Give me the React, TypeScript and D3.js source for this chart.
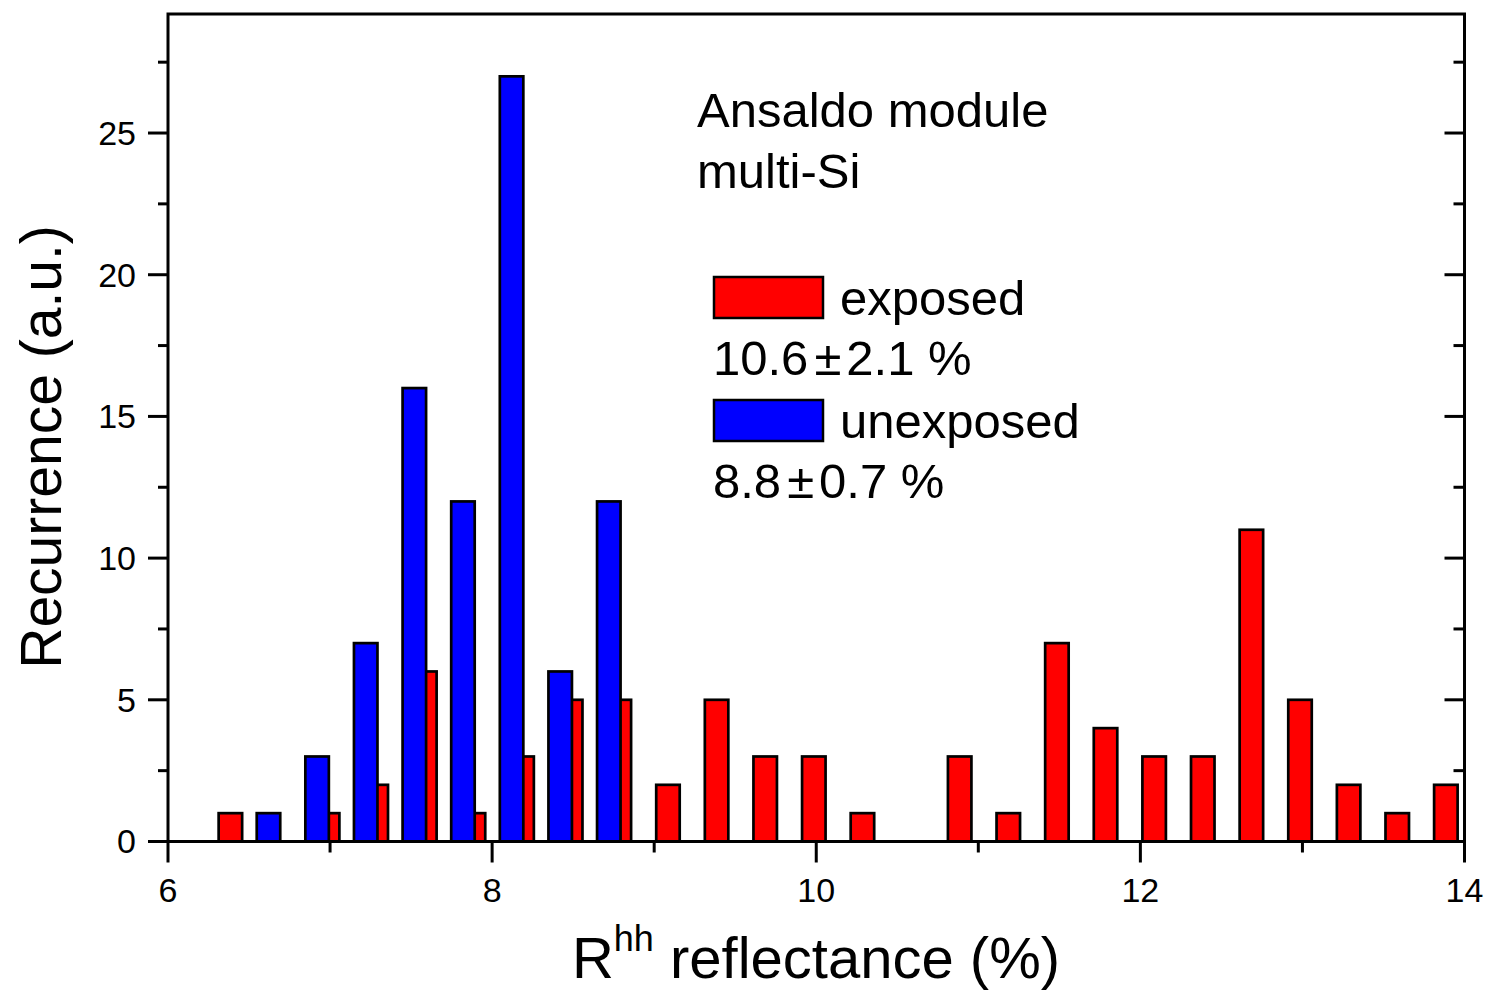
import React from "react";
import * as d3 from "d3";

const binCenters = [
  6.35, 6.65, 6.95, 7.25, 7.55, 7.85, 8.15, 8.45, 8.75, 9.05, 9.35, 9.65, 9.95,
  10.25, 10.55, 10.85, 11.15, 11.45, 11.75, 12.05, 12.35, 12.65, 12.95, 13.25,
  13.55, 13.85,
];
const exposed = [1, 0, 1, 2, 6, 1, 3, 5, 5, 2, 5, 3, 3, 1, 0, 3, 1, 7, 4, 3, 3, 11, 5, 2, 1, 2];
const unexposed = [0, 1, 3, 7, 16, 12, 27, 6, 12, 0, 0, 0, 0, 0, 0, 0, 0, 0, 0, 0, 0, 0, 0, 0, 0, 0];
const xMajorTicks = [6, 8, 10, 12, 14];
const xMinorTicks = [7, 9, 11, 13];
const yMajorTicks = [0, 5, 10, 15, 20, 25];
const yMinorTicks = [2.5, 7.5, 12.5, 17.5, 22.5, 27.5];
const legendItems = [
  { label: "exposed", mean: "10.6", sd: "2.1 %", color: "#ff0000" },
  { label: "unexposed", mean: "8.8", sd: "0.7 %", color: "#0000ff" },
];
const annotation = ["Ansaldo module", "multi-Si"];

const W = 1488;
const H = 993;
const L = 168;
const R = 1464.5;
const T = 14;
const B = 841.5;
const FONT = "'Liberation Sans', Arial, Helvetica, sans-serif";

export default function App() {
  const x = d3.scaleLinear().domain([6, 14]).range([L, R]);
  const y = d3.scaleLinear().domain([0, 29.2]).range([B, T]);
  const barW = x(6.145) - x(6);
  const redOff = 0.035;
  const blueOff = -0.03;

  const bars = (vals: number[], off: number, color: string) =>
    vals.map((v, i) =>
      v > 0 ? (
        <rect
          key={color + i}
          x={x(binCenters[i] + off) - barW / 2}
          y={y(v)}
          width={barW}
          height={y(0) - y(v)}
          fill={color}
          stroke="#000"
          strokeWidth={2.7}
        />
      ) : null
    );

  return (
    <svg
      width={W}
      height={H}
      style={{ position: "absolute", left: 0, top: 0, background: "#fff" }}
      fontFamily={FONT}
    >
      <rect x={0} y={0} width={W} height={H} fill="#fff" />
      {bars(exposed, redOff, "#ff0000")}
      {bars(unexposed, blueOff, "#0000ff")}

      {/* frame */}
      <rect x={L} y={T} width={R - L} height={B - T} fill="none" stroke="#000" strokeWidth={3} />

      {/* bottom ticks */}
      {xMajorTicks.map((t) => (
        <g key={"xM" + t}>
          <line x1={x(t)} x2={x(t)} y1={B} y2={B + 21} stroke="#000" strokeWidth={3} />
          <text x={x(t)} y={902} fontSize={34} textAnchor="middle">
            {t}
          </text>
        </g>
      ))}
      {xMinorTicks.map((t) => (
        <line key={"xm" + t} x1={x(t)} x2={x(t)} y1={B} y2={B + 11} stroke="#000" strokeWidth={3} />
      ))}

      {/* left ticks */}
      {yMajorTicks.map((t) => (
        <g key={"yM" + t}>
          <line x1={L - 20} x2={L} y1={y(t)} y2={y(t)} stroke="#000" strokeWidth={3} />
          <line x1={R - 20} x2={R} y1={y(t)} y2={y(t)} stroke="#000" strokeWidth={3} />
          <text x={136} y={y(t)} dy="0.35em" fontSize={34} textAnchor="end">
            {t}
          </text>
        </g>
      ))}
      {yMinorTicks.map((t) => (
        <g key={"ym" + t}>
          <line x1={L - 10} x2={L} y1={y(t)} y2={y(t)} stroke="#000" strokeWidth={3} />
          <line x1={R - 11} x2={R} y1={y(t)} y2={y(t)} stroke="#000" strokeWidth={3} />
        </g>
      ))}

      {/* axis titles */}
      <text
        transform={`translate(61, 447) rotate(-90)`}
        fontSize={57}
        textAnchor="middle"
      >
        Recurrence (a.u.)
      </text>
      <text x={816} y={978} fontSize={58} textAnchor="middle">
        R<tspan dy={-27} fontSize={36}>hh</tspan>
        <tspan dy={27}> reflectance (%)</tspan>
      </text>

      {/* annotation */}
      {annotation.map((s, i) => (
        <text key={s} x={697} y={127 + i * 61} fontSize={49}>
          {s}
        </text>
      ))}

      {/* legend */}
      {legendItems.map((it, i) => {
        const y0 = 277 + i * 123;
        return (
          <g key={it.label}>
            <rect x={714} y={y0} width={109} height={41} fill={it.color} stroke="#000" strokeWidth={2.5} />
            <text x={840} y={y0 + 38} fontSize={49}>
              {it.label}
            </text>
            <text x={713} y={y0 + 98} fontSize={49}>
              {it.mean}
              <tspan dx={6}>{"\u00B1"}</tspan>
              <tspan dx={5}>{it.sd}</tspan>
            </text>
          </g>
        );
      })}
    </svg>
  );
}
